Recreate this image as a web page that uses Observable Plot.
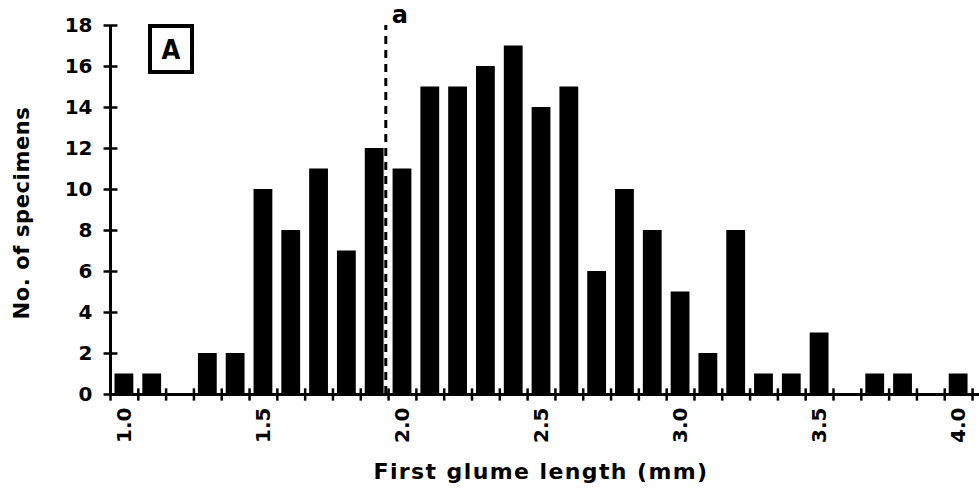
<!DOCTYPE html>
<html><head><meta charset="utf-8">
<script src="https://cdn.jsdelivr.net/npm/d3@7"></script>
<script src="https://cdn.jsdelivr.net/npm/@observablehq/plot@0.6"></script>
<style>
body{margin:0;background:#fff;}
#wrap{position:relative;width:979px;height:502px;overflow:hidden;}
#panel{position:absolute;left:148px;top:24px;width:38px;height:42px;border:4px solid #000;
  font-family:"DejaVu Sans Condensed","DejaVu Sans",sans-serif;font-size:27px;font-weight:bold;
  display:flex;align-items:center;justify-content:center;line-height:1;color:#000;background:#fff;}
.xlab text{letter-spacing:1.4px;}
.ylab text{letter-spacing:0.6px;}
</style></head><body>
<div id="wrap"></div>
<script>
// Bar centres (first glume length, mm) and counts (no. of specimens)
const lengths = [1.0,1.1,1.2,1.3,1.4,1.5,1.6,1.7,1.8,1.9,2.0,2.1,2.2,2.3,2.4,2.5,2.6,2.7,2.8,2.9,3.0,3.1,3.2,3.3,3.4,3.5,3.6,3.7,3.8,3.9,4.0];
const counts  = [1,1,0,2,2,10,8,11,7,12,11,15,15,16,17,14,15,6,10,8,5,2,8,1,1,3,0,1,1,0,1];
// Bin edges carrying the x-axis tick marks
const binEdges = [0.95,1.05,1.15,1.25,1.35,1.45,1.55,1.65,1.75,1.85,1.95,2.05,2.15,2.25,2.35,2.45,2.55,2.65,2.75,2.85,2.95,3.05,3.15,3.25,3.35,3.45,3.55,3.65,3.75,3.85,3.95,4.05];
const xTickLabels = [1.0,1.5,2.0,2.5,3.0,3.5,4.0];
const yTicks = [0,2,4,6,8,10,12,14,16,18];
const cutoffX = [1.94];
const cutoffLabel = "a";
const panelLabel = "A";
const xLabel = "First glume length (mm)";
const yLabel = "No. of specimens";

const data = lengths.map((len, i) => ({len, count: counts[i]}));
const xMin = binEdges[0];
const yMax = yTicks[yTicks.length - 1];
// half-lengths of the crossing tick marks, in data units (≈6–7 px)
const xTickHalf = 0.3;
const yTickHalf = 0.025;

const chart = Plot.plot({
  width: 979,
  height: 502,
  marginLeft: 110,
  marginRight: 0,
  marginTop: 25,
  marginBottom: 108,
  style: {fontFamily: "'DejaVu Sans', sans-serif", fontWeight: "bold", fontSize: "20px", color: "#000", background: "#fff"},
  x: {domain: [xMin, 4.075]},
  y: {domain: [0, yMax]},
  marks: [
    Plot.rectY(data, {x1: d => d.len - 0.05, x2: d => d.len + 0.05, y: "count", insetLeft: 4.5, insetRight: 4.5, fill: "#000"}),
    Plot.ruleY([0], {stroke: "#000", strokeWidth: 3}),
    Plot.ruleX([xMin], {y1: 0, y2: yMax, stroke: "#000", strokeWidth: 3}),
    Plot.link(binEdges, {x1: d => d, x2: d => d, y1: -xTickHalf, y2: xTickHalf, stroke: "#000", strokeWidth: 2.5}),
    Plot.link(yTicks, {x1: xMin - yTickHalf, x2: xMin + yTickHalf, y1: d => d, y2: d => d, stroke: "#000", strokeWidth: 2.5}),
    Plot.axisX(xTickLabels, {tickSize: 0, tickPadding: 13, tickRotate: -90, tickFormat: d3.format(".1f"), label: null, fontSize: 20}),
    Plot.axisY(yTicks, {tickSize: 0, tickPadding: 18, label: null, fontSize: 20}),
    Plot.ruleX(cutoffX, {y1: 0, y2: yMax, stroke: "#000", strokeWidth: 3, strokeDasharray: "8,6"}),
    Plot.text(cutoffX, {x: d => d, y: yMax, text: () => cutoffLabel, dx: 14, dy: -10, fontSize: 24, fontWeight: "bold"}),
    Plot.text([xLabel], {frameAnchor: "bottom", text: d => d, dy: 84, fontSize: 22, fontWeight: "bold", textAnchor: "middle", dx: -4, className: "xlab"}),
    Plot.text([yLabel], {frameAnchor: "left", text: d => d, dx: -88, dy: 3, rotate: -90, textAnchor: "middle", fontSize: 21, fontWeight: "bold", className: "ylab"})
  ]
});
const wrap = document.getElementById("wrap");
wrap.appendChild(chart);
const p = document.createElement("div");
p.id = "panel";
p.textContent = panelLabel;
wrap.appendChild(p);
</script>
</body></html>
